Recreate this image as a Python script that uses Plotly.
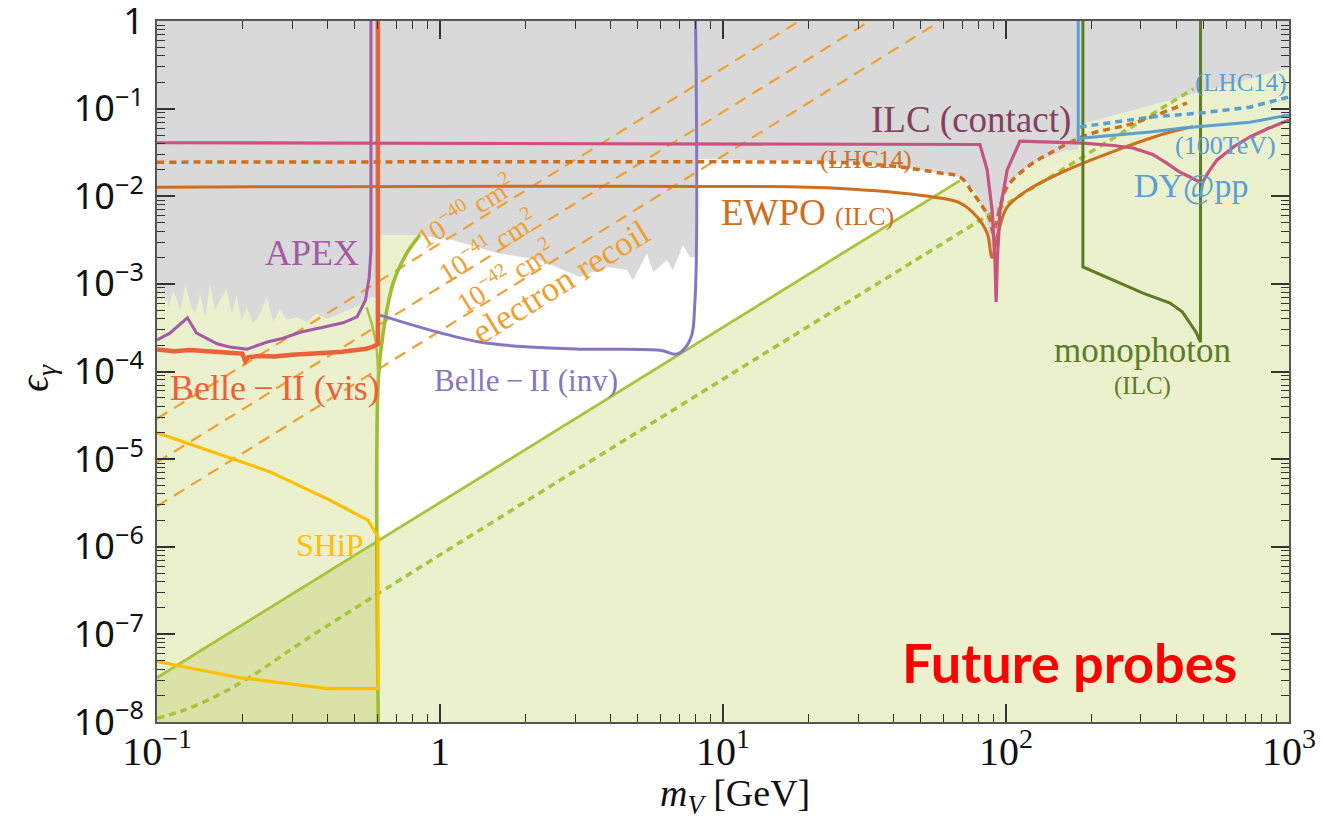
import plotly.graph_objects as go

# ---------------- axis ticks ----------------
x_tick_vals = [0.1, 1, 10, 100, 1000]
x_tick_text = ["10<sup>−1</sup>", "1", "10<sup>1</sup>", "10<sup>2</sup>", "10<sup>3</sup>"]
y_tick_vals = [1e-8, 1e-7, 1e-6, 1e-5, 1e-4, 1e-3, 1e-2, 1e-1, 1]
y_tick_text = ["10<sup>−8</sup>", "10<sup>−7</sup>", "10<sup>−6</sup>", "10<sup>−5</sup>",
               "10<sup>−4</sup>", "10<sup>−3</sup>", "10<sup>−2</sup>", "10<sup>−1</sup>", "1"]

# ---------------- excluded region (current bounds, grey) ----------------
grey_lower_x = [0.1, 0.105, 0.110, 0.114, 0.121, 0.126, 0.131, 0.136, 0.142, 0.148, 0.154,
                0.160, 0.167, 0.176, 0.184, 0.191, 0.199, 0.207, 0.219, 0.231, 0.244, 0.258,
                0.272, 0.287, 0.312, 0.338, 0.367, 0.398, 0.432, 0.468, 0.508, 0.551, 0.574,
                0.6, 0.6, 0.849, 1.11, 1.59, 2.25, 3.12, 3.89, 4.58, 4.81, 5.39, 5.66, 6.34,
                6.65, 7.22, 7.64, 8.0, 8.0, 28.1, 42.2, 58.5, 68.7,
                77.6, 84.3, 90.0, 95.3, 103, 124, 164, 180, 180, 1000]
grey_lower_y = [7.1e-4, 9.3e-4, 5.5e-4, 8.5e-4, 5.0e-4, 1.0e-3, 6.0e-4, 4.6e-4, 7.8e-4, 4.2e-4,
                1.0e-3, 5.0e-4, 6.5e-4, 8.5e-4, 4.6e-4, 7.4e-4, 3.9e-4, 5.5e-4, 3.5e-4, 4.6e-4,
                7.1e-4, 3.7e-4, 5.2e-4, 3.9e-4, 4.2e-4, 3.7e-4, 4.6e-4, 4.0e-4, 4.4e-4, 5.0e-4,
                5.5e-4, 6.5e-4, 7.1e-4,
                7.1e-4, 3.6e-3, 3.6e-3, 3.16e-3, 2.25e-3, 1.87e-3, 1.20e-3, 1.56e-3, 1.44e-3,
                1.10e-3, 2.25e-3, 1.36e-3, 1.87e-3, 1.44e-3, 2.77e-3, 2.02e-3, 2.0e-3, 0.0266,
                0.0246, 0.0216, 0.0184, 0.0166,
                0.0118, 6.1e-3, 2.1e-3, 6.9e-3, 0.0142, 0.0239, 0.0337, 0.0337, 0.065, 0.29]

# ---------------- future reach (light green) ----------------
future_x = [0.1, 0.1, 0.6, 0.6, 0.849, 0.764, 0.683, 0.629, 0.605, 0.605, 68.7,
            77.6, 84.3, 90.0, 95.3, 103, 124, 164, 180, 180, 1000, 1000]
future_y = [1e-8, 1.05e-3, 1.05e-3, 3.6e-3, 3.6e-3, 2.25e-3, 1.02e-3, 2.74e-4, 8e-5, 1.17e-6, 0.0151,
            0.0118, 6.1e-3, 2.1e-3, 6.9e-3, 0.0142, 0.0239, 0.0337, 0.0337, 0.065, 0.29, 1e-8]

# overlap of the two future regions below 0.6 GeV
overlap_x = [0.1, 0.1, 0.605, 0.605]
overlap_y = [1e-8, 3.2e-8, 1.17e-6, 1e-8]

# ---------------- curves ----------------
apex_x = [0.1, 0.111, 0.128, 0.138, 0.163, 0.181, 0.208, 0.218, 0.245, 0.279, 0.32, 0.386,
          0.454, 0.509, 0.545, 0.562, 0.57, 0.57]
apex_y = [2.3e-4, 2.74e-4, 4.1e-4, 2.74e-4, 2.07e-4, 1.9e-4, 1.8e-4, 1.9e-4, 2.17e-4, 2.4e-4,
          2.8e-4, 3.2e-4, 3.6e-4, 4.2e-4, 6.5e-4, 1.2e-3, 2.4e-3, 1]

belle_vis_x = [0.1, 0.115, 0.13, 0.15, 0.17, 0.19, 0.2, 0.205, 0.21, 0.23, 0.26, 0.3, 0.35,
               0.4, 0.45, 0.5, 0.55, 0.58, 0.603, 0.603]
belle_vis_y = [1.78e-4, 1.70e-4, 1.76e-4, 1.68e-4, 1.66e-4, 1.62e-4, 1.6e-4, 1.32e-4, 1.46e-4,
               1.5e-4, 1.48e-4, 1.55e-4, 1.58e-4, 1.64e-4, 1.68e-4, 1.74e-4, 1.82e-4, 1.92e-4,
               2.05e-4, 1]

belle_inv_x = [0.614, 0.923, 1.38, 2.08, 3.12, 5.99, 6.87, 7.64, 7.96, 8.0]
belle_inv_y = [4.4e-4, 2.97e-4, 2.17e-4, 1.9e-4, 1.8e-4, 1.75e-4, 1.58e-4, 2.28e-4, 6.5e-4, 1]

ship_x = [0.1, 0.25, 0.408, 0.557, 0.604, 0.604, 0.4, 0.196, 0.1]
ship_y = [2.0e-5, 7.2e-6, 3.4e-6, 2.0e-6, 1.29e-6, 2.4e-8, 2.4e-8, 3.2e-8, 4.9e-8]

ilc_x = [0.1, 80.9, 85.8, 89.3, 91.4, 92.3, 93.2, 95.3, 101, 112, 187, 240, 281, 330, 370,
         410, 447, 493, 520, 557, 640, 728, 850, 1000]
ilc_y = [0.0408, 0.0390, 0.020, 7e-3, 1.9e-3, 6.2e-4, 1.9e-3, 7e-3, 0.020, 0.0425, 0.0405,
         0.038, 0.0356, 0.030, 0.0239, 0.019, 0.0166, 0.0141, 0.019, 0.026, 0.037, 0.0475,
         0.060, 0.074]

ewpo_x = [0.1, 20, 28.1, 42.2, 55.2, 68.7, 79.1, 85.8, 89.3, 93.7, 101, 119, 164, 247, 370, 458]
ewpo_y = [0.0127, 0.0127, 0.0121, 0.0109, 0.0098, 8.4e-3, 5.8e-3, 3.8e-3, 2.0e-3, 3.8e-3,
          7.5e-3, 0.0117, 0.0199, 0.0337, 0.0527, 0.062]

ewpo_lhc_x = [0.1, 20, 28.1, 42.2, 58.5, 68.7, 76.4, 82.9, 87.8, 90.0, 95.3, 101, 119, 143,
              193, 281, 436]
ewpo_lhc_y = [0.0245, 0.0245, 0.0240, 0.0216, 0.0184, 0.0166, 0.0109, 7.5e-3, 5.4e-3, 3.8e-3,
              7.5e-3, 0.0128, 0.0216, 0.031, 0.05, 0.068, 0.116]

green_solid_x = [0.1, 68.7]
green_solid_y = [3.2e-8, 0.0151]
green_dot_x = [0.1, 0.124, 0.163, 0.213, 0.367, 460]
green_dot_y = [1.1e-8, 1.36e-8, 2.0e-8, 3.25e-8, 1.05e-7, 0.169]
green_edge_x = [0.605, 0.605, 0.629, 0.683, 0.764, 0.849]
green_edge_y = [1e-8, 8e-5, 2.74e-4, 1.02e-3, 2.25e-3, 3.6e-3]
green_left_x = [0.605, 0.595, 0.575, 0.55]
green_left_y = [8e-5, 2.0e-4, 3.4e-4, 5.4e-4]

mono_x = [187, 187, 305, 350, 380, 420, 447, 470, 487, 487]
mono_y = [1, 1.56e-3, 7.85e-4, 6.7e-4, 6.04e-4, 4.8e-4, 3.57e-4, 2.8e-4, 2.17e-4, 1]

dy100_x = [180, 180, 187, 323, 422, 557, 728, 1000]
dy100_y = [1, 0.0438, 0.0462, 0.054, 0.060, 0.065, 0.070, 0.0845]
dy14_x = [182, 323, 485, 728, 1000]
dy14_y = [0.0617, 0.080, 0.089, 0.104, 0.136]

# electron-recoil cross-section contours, 1e-40, 1e-41, 1e-42 cm^2
recoil_x0 = [0.1, 0.1, 0.1]
recoil_y0 = [2.9e-5, 9.2e-6, 2.9e-6]
recoil_x1 = [18.6, 33.0, 58.7]
recoil_y1 = [1, 1, 1]

# ---------------- colours ----------------
C_GREY = "#d9d9d9"
C_LGREEN = "#ebf0cd"
C_DGREEN = "#dbe2a8"
C_GREEN = "#a8c43c"
C_APEX = "#a45aa6"
C_BVIS = "#ea6239"
C_BINV = "#8576c0"
C_SHIP = "#ffbf00"
C_ILC = "#c9527f"
C_ILC_TXT = "#84405e"
C_EWPO = "#cf6e1d"
C_RECOIL = "#eea032"
C_MONO = "#5e7c26"
C_DY = "#5a9fd2"

fig = go.Figure()


def area(xs, ys, color):
    fig.add_trace(go.Scatter(x=xs, y=ys, mode="lines", fill="toself", fillcolor=color,
                             line=dict(width=0), hoverinfo="skip", showlegend=False))


def curve(xs, ys, color, width=3, dash="solid", shape="linear"):
    fig.add_trace(go.Scatter(x=xs, y=ys, mode="lines",
                             line=dict(color=color, width=width, dash=dash, shape=shape),
                             hoverinfo="skip", showlegend=False))


area(future_x, future_y, C_LGREEN)
area(overlap_x, overlap_y, C_DGREEN)
area(grey_lower_x + [1000, 0.1], grey_lower_y + [1.1, 1.1], C_GREY)

for x0, y0, x1, y1 in zip(recoil_x0, recoil_y0, recoil_x1, recoil_y1):
    curve([x0, x1], [y0, y1], C_RECOIL, width=2.2, dash="12px,8px")

curve(green_solid_x, green_solid_y, C_GREEN, width=2.8)
curve(green_dot_x, green_dot_y, C_GREEN, width=3.5, dash="7px,5px", shape="spline")
curve(green_edge_x, green_edge_y, "#9fbd30", width=3.6, shape="spline")
curve(green_left_x, green_left_y, C_GREEN, width=2.5, shape="spline")

curve(ship_x, ship_y, C_SHIP, width=3.2)
curve(apex_x, apex_y, C_APEX, width=3)
curve(belle_vis_x, belle_vis_y, C_BVIS, width=4.5)
curve(belle_inv_x, belle_inv_y, C_BINV, width=3, shape="spline")

curve(ewpo_lhc_x, ewpo_lhc_y, C_EWPO, width=3.5, dash="7px,5px", shape="spline")
curve(ewpo_x, ewpo_y, C_EWPO, width=3, shape="spline")
curve(ilc_x, ilc_y, C_ILC, width=3.2)

curve(mono_x, mono_y, C_MONO, width=3)
curve(dy14_x, dy14_y, C_DY, width=3.5, dash="7px,5px")
curve(dy100_x, dy100_y, C_DY, width=3)

SERIF = "Liberation Serif"

ann = []


def label(x, y, text, color, size, angle=0):
    ann.append(dict(x=x, y=y, xref="x", yref="y", text=text, showarrow=False,
                    font=dict(family=SERIF, size=size, color=color), textangle=angle,
                    xanchor="center", yanchor="middle"))


label(-0.452, -2.648, "APEX", C_APEX, 36)
label(-0.583, -4.19, "Belle\u2009−\u2009II (vis)", C_BVIS, 36)
label(0.304, -4.098, "Belle\u2009−\u2009II (inv)", C_BINV, 31)
label(-0.39, -5.98, "SHiP", C_SHIP, 32)
label(1.876, -1.13, "ILC (contact)", C_ILC_TXT, 37)
label(1.505, -1.587, "(LHC14)", C_EWPO, 25)
label(1.30, -2.18, "EWPO <span style='font-size:26px'>(ILC)</span>", C_EWPO, 37)
label(2.830, -0.708, "(LHC14)", C_DY, 25)
label(2.777, -1.416, "(100TeV)", C_DY, 26)
label(2.654, -1.884, "DY@pp", C_DY, 34)
label(2.481, -3.76, "monophoton", C_MONO, 35)
label(2.481, -4.16, "(ILC)", C_MONO, 25)

ang = -31.8
label(0.088, -2.158, "10<sup>−40</sup> cm<sup>2</sup>", C_RECOIL, 28, ang)
label(0.166, -2.557, "10<sup>−41</sup> cm<sup>2</sup>", C_RECOIL, 28, ang)
label(0.230, -2.90, "10<sup>−42</sup> cm<sup>2</sup>", C_RECOIL, 28, ang)
label(0.424, -2.98, "electron recoil", C_RECOIL, 35, ang)

ann.append(dict(x=2.226, y=-7.317, xref="x", yref="y", text="<b>Future probes</b>",
                showarrow=False, font=dict(family="Lato", size=54, color="#ff0000"),
                xanchor="center", yanchor="middle"))

# axis titles
ann.append(dict(x=0.5106, y=-0.105, xref="paper", yref="paper",
                text="<i>m</i><sub><i>V</i></sub> [GeV]", showarrow=False,
                font=dict(family=SERIF, size=38, color="#111"), xanchor="center",
                yanchor="middle"))
ann.append(dict(x=-0.106, y=0.4907, xref="paper", yref="paper",
                text="<i>ϵ</i><sub><i>γ</i></sub>", showarrow=False, textangle=-90,
                font=dict(family=SERIF, size=40, color="#111"), xanchor="center",
                yanchor="middle"))

axis_common = dict(type="log", showgrid=False, zeroline=False, showline=True,
                   linecolor="#555", linewidth=2, mirror="allticks", ticks="inside",
                   ticklen=18, tickwidth=1.5, tickcolor="#333",
                   ticklabeloverflow="allow", automargin=False,
                   minor=dict(ticks="inside", ticklen=8, tickwidth=1.2, tickcolor="#333",
                              dtick="D1", showgrid=False))

fig.update_layout(
    width=1323, height=830,
    margin=dict(l=157, r=34, t=21, b=108),
    plot_bgcolor="white", paper_bgcolor="white",
    showlegend=False,
    annotations=ann,
    xaxis=dict(range=[-1.0002, 3.0002], tickvals=x_tick_vals, ticktext=x_tick_text,
               tickfont=dict(family=SERIF, size=40, color="#111"), ticklabelstandoff=-7,
               **axis_common),
    yaxis=dict(range=[-8.0004, 0.0004], tickvals=y_tick_vals, ticktext=y_tick_text,
               tickfont=dict(family="Noto Sans", size=36, color="#111"), ticklabelstandoff=4,
               **axis_common),
)

fig.write_html("out.html")
